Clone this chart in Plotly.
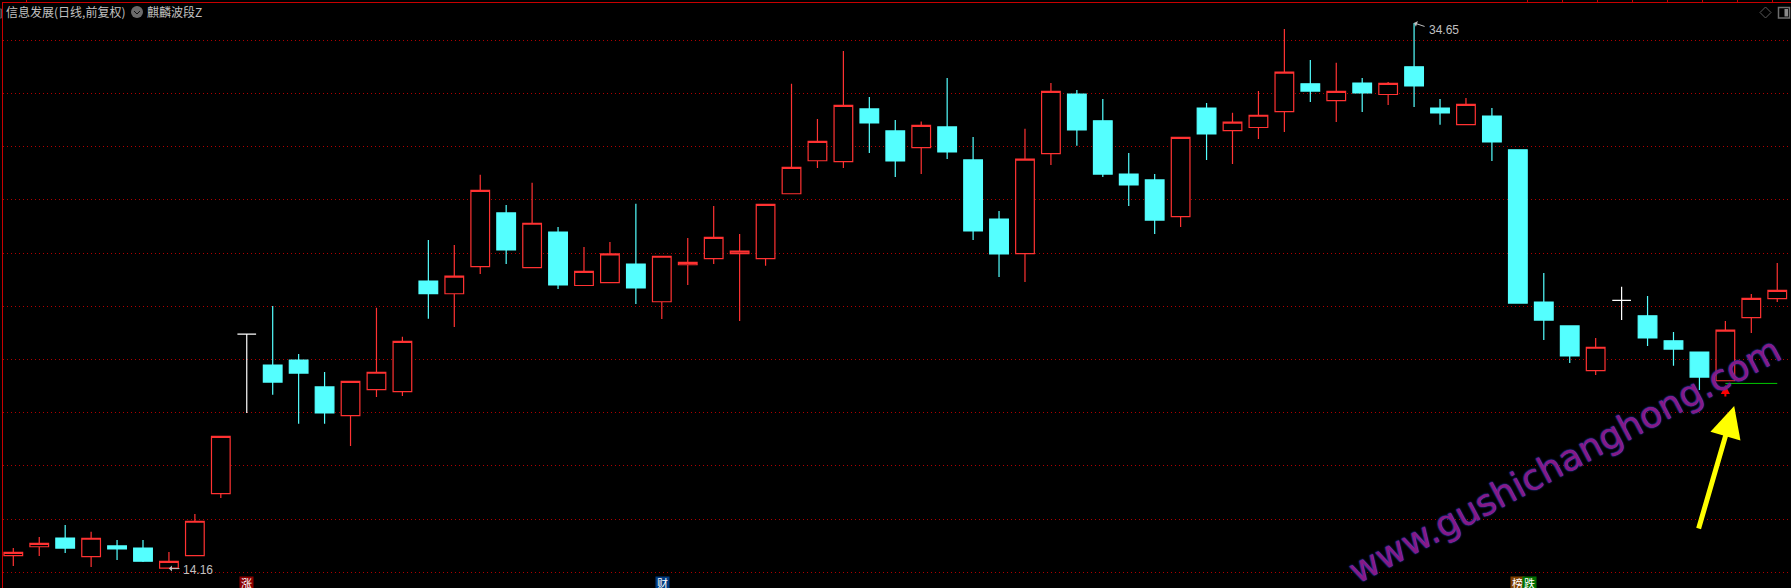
import plotly.graph_objects as go

OPEN = [14.63,14.96,15.29,14.59,14.99,14.91,14.16,14.63,16.96,22.95,21.79,21.98,20.97,19.89,20.87,20.79,24.95,24.47,25.49,27.51,25.45,26.79,24.78,24.89,25.59,24.17,25.56,25.79,25.98,25.79,28.23,29.47,29.44,31.42,30.59,29.96,30.74,29.50,27.28,25.98,29.74,31.98,30.97,28.97,28.75,27.37,31.45,30.60,30.72,31.32,32.36,31.73,32.39,31.96,33.00,31.45,30.83,31.15,29.88,24.16,23.26,21.58,24.22,23.64,22.70,22.28,21.20,23.57,24.29]
HIGH = [14.91,15.33,15.78,15.52,15.21,15.21,14.76,16.19,19.11,22.95,24.01,22.21,21.53,21.18,23.94,22.85,26.49,26.30,28.94,27.81,28.64,26.98,26.23,26.42,27.85,25.88,26.57,27.77,26.72,27.83,32.36,31.04,33.60,31.87,31.00,30.95,32.58,30.36,27.58,30.67,32.39,32.13,31.79,29.76,28.97,30.35,31.64,31.27,32.09,34.42,33.26,33.15,32.58,32.43,34.65,31.79,31.83,31.45,29.88,25.25,23.26,22.81,24.73,24.39,23.03,22.28,23.45,24.46,25.63]
LOW = [14.24,14.61,14.73,14.20,14.46,14.39,14.16,14.63,16.79,19.99,20.67,19.58,19.58,18.75,20.59,20.63,23.53,23.22,25.21,25.59,25.45,24.65,24.78,24.89,24.09,23.52,24.80,25.59,23.45,25.52,28.23,29.20,29.20,29.76,28.86,28.97,29.54,26.49,25.10,24.91,29.31,30.03,28.86,27.77,26.72,26.98,29.50,29.35,30.29,30.55,31.68,30.93,31.30,31.57,31.49,30.82,30.83,29.46,24.12,22.73,21.87,21.42,23.48,22.51,21.76,20.85,21.20,23.00,24.16]
CLOSE = [14.75,15.09,14.91,15.28,14.88,14.42,14.41,15.92,19.11,22.95,21.15,21.49,19.99,21.18,21.52,22.68,24.47,25.13,28.36,26.12,27.12,24.80,25.31,25.97,24.69,25.88,25.65,26.59,26.07,27.83,29.22,30.20,31.55,30.89,29.46,30.80,29.80,26.83,25.97,29.53,32.08,30.63,28.97,28.56,27.24,30.35,30.48,30.92,31.18,32.80,32.09,32.08,32.02,32.38,32.28,31.27,31.59,30.18,24.12,23.48,22.13,22.46,24.22,22.81,22.39,21.34,23.10,24.30,24.60]
TOP_TICKS = [0.49,58.39,59.73,61.08,62.42,63.77,65.12,66.46,67.81]
HIGH_LABEL = "34.65"
LOW_LABEL = "14.16"
TITLE_A = "信息发展(日线,前复权)"
TITLE_B = "麒麟波段Z"
WATERMARK = "www.gushichanghong.com"
TAGS = [("涨", 9.0, "#8b0000"), ("财", 25.03, "#003a80"), ("榜", 57.97, "#7f4000"), ("跌", 58.45, "#007000")]
SIGNAL_X = [66, 68]
SIGNAL_Y = [21.10, 21.10]

RED = "#ff3232"
CYAN = "#54ffff"
FRAME = "#c80000"
GRID = "#b00000"
TXT = "#c0c0c0"
W, H = 1791, 588
ML, MT = 3, 3

idx = list(range(len(OPEN)))
body = [i for i in idx if OPEN[i] != CLOSE[i]]
doji = [i for i in idx if OPEN[i] == CLOSE[i]]
pick = lambda a, s: [a[i] for i in s]

fig = go.Figure()
fig.add_trace(go.Candlestick(
    x=body, open=pick(OPEN, body), high=pick(HIGH, body), low=pick(LOW, body), close=pick(CLOSE, body),
    increasing=dict(line=dict(color=RED, width=1.2), fillcolor="#000000"),
    decreasing=dict(line=dict(color=CYAN, width=1.2), fillcolor=CYAN),
    whiskerwidth=0, showlegend=False, hoverinfo="skip"))
fig.add_trace(go.Candlestick(
    x=doji, open=pick(OPEN, doji), high=pick(HIGH, doji), low=pick(LOW, doji), close=pick(CLOSE, doji),
    increasing=dict(line=dict(color="#ffffff", width=1.2), fillcolor="#ffffff"),
    decreasing=dict(line=dict(color="#ffffff", width=1.2), fillcolor="#ffffff"),
    whiskerwidth=0, showlegend=False, hoverinfo="skip"))
fig.add_trace(go.Scatter(x=SIGNAL_X, y=SIGNAL_Y, mode="lines",
                         line=dict(color="#00c800", width=1), showlegend=False, hoverinfo="skip"))

def px(x):
    return (x - ML) / (W - ML)
def py(y):
    return 1 - (y - MT) / (H - MT)

shapes = [
    dict(type="rect", xref="paper", yref="paper", x0=px(0), x1=px(1.5), y0=py(18), y1=py(9),
         line=dict(color="#555555", width=1)),
    dict(type="circle", xref="paper", yref="paper", x0=px(131), x1=px(143), y0=py(18), y1=py(6),
         fillcolor="#6a6a6a", line=dict(width=0)),
    dict(type="path", xref="paper", yref="paper",
         path=f"M {px(134)} {py(11)} L {px(137)} {py(14)} L {px(140)} {py(11)}",
         line=dict(color="#111111", width=1)),
    dict(type="path", xref="paper", yref="paper",
         path=f"M {px(1765.5)} {py(7)} L {px(1771)} {py(12.5)} L {px(1765.5)} {py(18)} L {px(1760)} {py(12.5)} Z",
         line=dict(color="#5a5a5a", width=1)),
    dict(type="rect", xref="paper", yref="paper", x0=px(1778.5), x1=px(1789.5), y0=py(18), y1=py(7.5),
         line=dict(color="#6e6e6e", width=1.5)),
    dict(type="rect", xref="paper", yref="paper", x0=px(1784.5), x1=px(1788), y0=py(16.5), y1=py(9),
         fillcolor="#8a8a8a", line=dict(width=0)),
]

anns = [
    dict(xref="paper", yref="paper", x=px(4), y=py(12), xanchor="left", yanchor="middle", showarrow=False,
         text=TITLE_A, font=dict(family="Noto Sans CJK SC", size=12, color=TXT)),
    dict(xref="paper", yref="paper", x=px(145), y=py(12), xanchor="left", yanchor="middle", showarrow=False,
         text=TITLE_B, font=dict(family="Noto Sans CJK SC", size=12, color=TXT)),
    dict(x=6.0, y=14.14, ax=12, ay=0, axref="pixel", ayref="pixel", text="", showarrow=True,
         arrowhead=1, arrowsize=1, arrowwidth=1, arrowcolor=TXT),
    dict(x=6.46, y=14.10, xanchor="left", yanchor="middle", showarrow=False, text=LOW_LABEL,
         font=dict(family="Liberation Sans", size=12, color=TXT)),
    dict(x=54.0, y=34.65, ax=12, ay=4, axref="pixel", ayref="pixel", text="", showarrow=True,
         arrowhead=1, arrowsize=1, arrowwidth=1, arrowcolor=TXT),
    dict(x=54.5, y=34.40, xanchor="left", yanchor="middle", showarrow=False, text=HIGH_LABEL,
         font=dict(family="Liberation Sans", size=12, color=TXT)),
    dict(x=66, y=21.04, ax=0, ay=13, axref="pixel", ayref="pixel", text="", showarrow=True,
         arrowhead=2, arrowsize=0.9, arrowwidth=2, arrowcolor="#ff0000"),
    dict(x=66.34, y=20.25, ax=-36, ay=124, axref="pixel", ayref="pixel", text="", showarrow=True,
         arrowhead=2, arrowsize=1.25, arrowwidth=5, arrowcolor="#ffff00"),
    dict(xref="paper", yref="paper", x=px(1564), y=py(460), xanchor="center", yanchor="middle", showarrow=False,
         text=WATERMARK, textangle=-28,
         font=dict(family="DejaVu Sans", size=36, color="#861a86",
                   shadow="0 0 1px #2a40c8, 0 0 2px #2a40c8")),
]
for label, pos, bg in TAGS:
    anns.append(dict(x=pos, y=13.62, xanchor="center", yanchor="middle", showarrow=False, text=label,
                     bgcolor=bg, borderpad=0, width=13, height=11,
                     font=dict(family="Noto Sans CJK SC", size=11, color="#ffffff")))

fig.update_layout(
    width=W, height=H, margin=dict(l=ML, r=0, t=MT, b=0, pad=0),
    paper_bgcolor="#000000", plot_bgcolor="#000000", boxgap=0.28, boxgroupgap=0,
    shapes=shapes, annotations=anns, showlegend=False,
    xaxis=dict(range=[-0.397, 68.53], rangeslider=dict(visible=False), side="top", showgrid=False,
               zeroline=False, showline=True, linecolor=FRAME, linewidth=1, ticks="outside", ticklen=2,
               tickwidth=1, tickcolor=FRAME, tickmode="array", tickvals=TOP_TICKS, showticklabels=False),
    yaxis=dict(range=[13.41, 35.40], tick0=14, dtick=2, showgrid=True, gridcolor=GRID, griddash="1px,3px",
               gridwidth=1, zeroline=False, showline=True, linecolor=FRAME, linewidth=1, ticks="",
               showticklabels=False),
)
fig.write_html("out.html", config=dict(displayModeBar=False),
               post_script="document.body.style.margin='0';document.body.style.overflow='hidden';")
